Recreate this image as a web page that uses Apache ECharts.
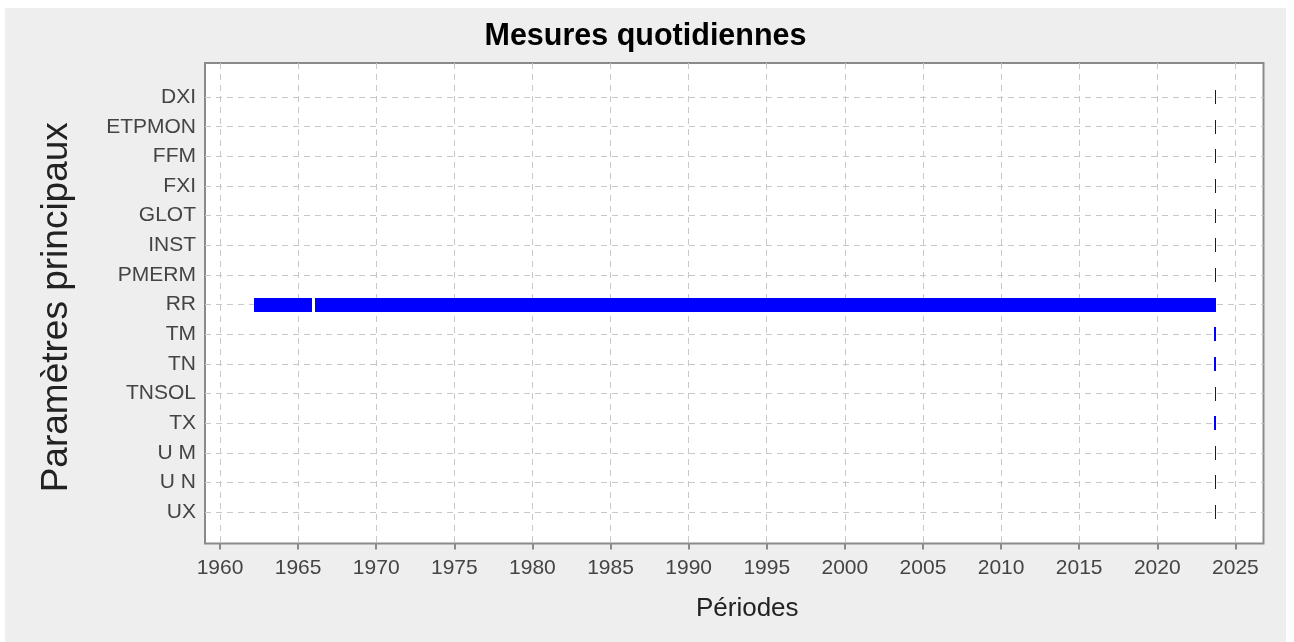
<!DOCTYPE html>
<html>
<head>
<meta charset="utf-8">
<script src="https://cdn.jsdelivr.net/npm/echarts@6/dist/echarts.min.js"></script>
<style>
  html, body { margin: 0; padding: 0; background: #ffffff; }
  #container { position: absolute; left: 5px; top: 8px; width: 1281px; height: 634px; background: #eeeeee; }
</style>
</head>
<body>
<div id="container"></div>
<script>
// parametres, du haut vers le bas
var params = ['DXI', 'ETPMON', 'FFM', 'FXI', 'GLOT', 'INST', 'PMERM', 'RR', 'TM', 'TN', 'TNSOL', 'TX', 'U M', 'U N', 'UX'];
var yearTicks = [1960, 1965, 1970, 1975, 1980, 1985, 1990, 1995, 2000, 2005, 2010, 2015, 2020, 2025];

// periodes de mesure (annees decimales)
var periodParam = ['RR', 'RR', 'DXI', 'ETPMON', 'FFM', 'FXI', 'GLOT', 'INST', 'PMERM', 'TM', 'TN', 'TNSOL', 'TX', 'U M', 'U N', 'UX'];
var periodStart = [1962.18, 1966.08, 2023.69, 2023.69, 2023.69, 2023.69, 2023.69, 2023.69, 2023.69, 2023.64, 2023.64, 2023.69, 2023.64, 2023.69, 2023.69, 2023.69];
var periodEnd   = [1965.89, 2023.76, 2023.71, 2023.71, 2023.71, 2023.71, 2023.71, 2023.71, 2023.71, 2023.76, 2023.76, 2023.71, 2023.76, 2023.71, 2023.71, 2023.71];

var dom = document.getElementById("container");
var myChart = echarts.init(dom);

var seriesData = periodParam.map((p, i) => {
    return [params.indexOf(p), periodStart[i], periodEnd[i]];
});
var paramIdx = params.map((p, i) => i);

var renderItem = (prm, api) => {
    var y = api.value(0);
    var a = api.coord([api.value(1), y]);
    var b = api.coord([api.value(2), y]);
    var h = 14;
    var x0 = Math.round(a[0]);
    var w = Math.max(1, Math.round(b[0]) - x0);
    return {
        type: 'rect',
        shape: { x: x0, y: Math.round(a[1] - h / 2), width: w, height: h },
        style: { fill: '#0000ff' }
    };
};

var option = {
    animation: false,
    title: {
        text: 'Mesures quotidiennes',
        left: 'center',
        top: 8,
        textStyle: { fontFamily: 'Liberation Sans', fontSize: 30.5, fontWeight: 'bold', color: '#000' }
    },
    grid: {
        left: 200, top: 55, width: 1058.5, height: 480.5,
        show: true, backgroundColor: '#ffffff', borderColor: '#8a8a8a', borderWidth: 2
    },
    xAxis: {
        type: 'value',
        min: 1959.04,
        max: 2026.8,
        name: 'Périodes',
        nameLocation: 'middle',
        nameGap: 52,
        nameTextStyle: { fontFamily: 'Liberation Sans', fontSize: 26, color: '#222', padding: [0, 0, 0, 26] },
        axisLine: { show: false, onZero: false },
        axisTick: { show: true, customValues: yearTicks, length: 6, lineStyle: { color: '#8a8a8a', width: 2 } },
        axisLabel: {
            customValues: yearTicks, margin: 14,
            fontFamily: 'Liberation Sans', fontSize: 21, color: '#444',
            formatter: v => String(v)
        },
        splitLine: { show: true, lineStyle: { color: '#c8c8c8', type: [6, 5], width: 1 } }
    },
    yAxis: {
        type: 'value',
        inverse: true,
        min: -1.15,
        max: 15.06,
        name: 'Paramètres principaux',
        nameLocation: 'middle',
        nameGap: 130,
        nameTextStyle: { fontFamily: 'Liberation Sans', fontSize: 37, color: '#222', padding: [0, 8, 0, 0] },
        axisLine: { show: false, onZero: false },
        axisTick: { show: false, customValues: paramIdx },
        axisLabel: {
            customValues: paramIdx, margin: 9,
            fontFamily: 'Liberation Sans', fontSize: 21, color: '#444',
            formatter: v => params[v]
        },
        splitLine: { show: true, lineStyle: { color: '#c8c8c8', type: [6, 5], width: 1 } }
    },
    series: [{
        type: 'custom',
        renderItem: renderItem,
        encode: { x: [1, 2], y: 0 },
        data: seriesData
    }]
};
myChart.setOption(option);
</script>
</body>
</html>
